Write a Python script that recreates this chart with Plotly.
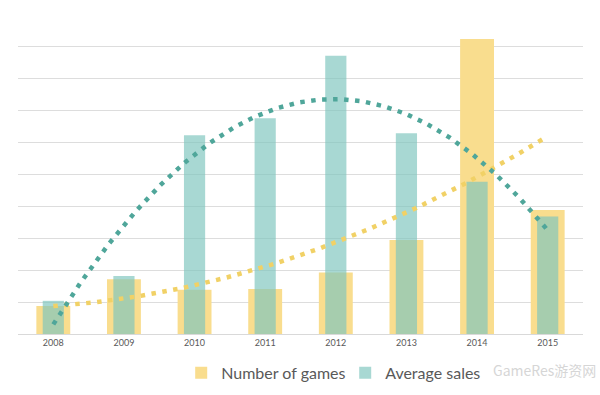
import numpy as np
import plotly.graph_objects as go

years = [2008, 2009, 2010, 2011, 2012, 2013, 2014, 2015]
tick_labels = ["2008", "2009", "2010", "2011", "2012", "2013", "2014", "2015"]
number_of_games = [0.88, 1.72, 1.39, 1.41, 1.93, 2.95, 9.25, 3.89]
average_sales = [1.04, 1.82, 6.23, 6.76, 8.72, 6.29, 4.77, 3.68]

YELLOW = "#F9DD8E"
TEAL = "rgba(125,197,190,0.67)"
YELLOW_DOT = "#F1D166"
TEAL_DOT = "#4FA69A"

# quadratic trendlines fitted to the data (as in the source chart)
xs = np.linspace(years[0], years[-1], 400)
t = np.array(years, dtype=float)
games_fit = np.polyval(np.polyfit(t, number_of_games, 2), xs)
sales_fit = np.polyval(np.polyfit(t, average_sales, 2), xs)

fig = go.Figure()
fig.add_trace(go.Bar(x=years, y=number_of_games, width=0.48, name="Number of games",
                     marker=dict(color=YELLOW, line=dict(width=0))))
fig.add_trace(go.Bar(x=years, y=average_sales, width=0.30, name="Average sales",
                     marker=dict(color=TEAL, line=dict(width=0))))
fig.add_trace(go.Scatter(x=xs, y=games_fit, mode="lines", showlegend=False, hoverinfo="skip",
                         line=dict(color=YELLOW_DOT, width=4.5, dash="4.5px,6.5px")))
fig.add_trace(go.Scatter(x=xs, y=sales_fit, mode="lines", showlegend=False, hoverinfo="skip",
                         line=dict(color=TEAL_DOT, width=4.5, dash="4.5px,6.5px")))

fig.update_layout(
    width=600, height=395,
    margin=dict(l=18, r=17, t=15, b=61, autoexpand=False),
    paper_bgcolor="white", plot_bgcolor="white",
    barmode="overlay",
    hovermode=False,
    font=dict(family="Lato, Noto Sans, sans-serif", color="#595959"),
    xaxis=dict(range=[2007.5, 2015.5], tickvals=years, ticktext=tick_labels,
               showgrid=False, zeroline=False, showline=True, linecolor="#D9D9D9",
               linewidth=1, ticks="", tickfont=dict(size=9, color="#595959")),
    yaxis=dict(range=[0, 10.0], dtick=1, showgrid=True, gridcolor="#DDDDDD", gridwidth=1,
               zeroline=False, showticklabels=False, ticks=""),
    legend=dict(orientation="h", xref="container", yref="container",
                x=0.302, xanchor="left", y=0.056, yanchor="middle",
                entrywidth=119, entrywidthmode="pixels",
                font=dict(size=16, color="#595959"), bgcolor="rgba(0,0,0,0)",
                traceorder="normal"),
    showlegend=True,
)

# source watermark, shrunk and moved beside the legend so it does not cover it
fig.add_annotation(text="GameRes游资网", xref="paper", yref="paper", x=1.026, y=-0.112,
                   xanchor="right", yanchor="middle", showarrow=False,
                   font=dict(size=14, color="#D6D6D6",
                             family="Noto Sans CJK SC, Noto Sans, sans-serif"))

fig.write_html("out.html", config={"displayModeBar": False, "staticPlot": True},
               post_script="document.body.style.margin='0';")
